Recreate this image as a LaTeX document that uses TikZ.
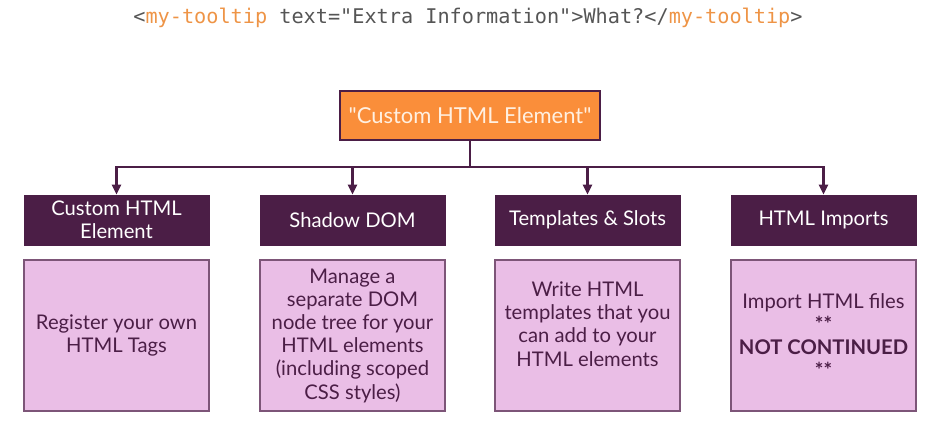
\documentclass[tikz,border=0pt]{standalone}
\usepackage{fontspec}
\setmainfont{Lato}
\setmonofont{DejaVu Sans Mono}
\newfontfamily\quotefont{Lato}
\usetikzlibrary{arrows.meta,positioning}
\definecolor{webpurple}{RGB}{75,30,70}
\definecolor{webpink}{RGB}{234,190,230}
\definecolor{pinkedge}{RGB}{125,85,120}
\definecolor{weborange}{RGB}{250,142,58}
\definecolor{orangetext}{RGB}{255,240,225}
\definecolor{codeorange}{RGB}{238,148,70}
\definecolor{codegrey}{RGB}{85,85,85}

\begin{document}
\begin{tikzpicture}[font=\fontsize{11.5}{13.2}\selectfont,
  root/.style={draw=webpurple,fill=weborange,line width=0.8pt,minimum width=5.2cm,minimum height=0.98cm,text=orangetext,font=\quotefont\fontsize{12.5}{15}\selectfont},
  hdr/.style={draw=webpurple,fill=webpurple,text=white,minimum width=3.7cm,minimum height=1cm,align=center,inner sep=2pt,font=\fontsize{11.5}{13}\selectfont},
  body/.style={draw=pinkedge,fill=webpink,line width=0.8pt,text=webpurple,minimum width=3.7cm,minimum height=3.02cm,align=center},
  arr/.style={-{Triangle[length=2mm,width=1.8mm]},line width=1.4pt,webpurple}]
\useasboundingbox (0,0) rectangle (18.58,-8.42);
\node[font=\ttfamily\fontsize{11.5}{14}\selectfont,text=codegrey] (code) at (9.36,-0.36)
 {<\textcolor{codeorange}{my-tooltip} text="Extra Information">What?</\textcolor{codeorange}{my-tooltip}>};
\node[root] (root) at (9.4,-2.31) {"Custom HTML Element"};
\coordinate (bus) at (9.4,-3.34);
% the four topics
\node[hdr] (h1) at (2.33,-4.4) {Custom HTML\\Element};
\node[hdr] (h2) at (7.05,-4.4) {Shadow DOM};
\node[hdr] (h3) at (11.75,-4.4) {Templates \& Slots};
\node[hdr] (h4) at (16.47,-4.4) {HTML Imports};
\node[body] (b1) at (2.33,-6.71) {Register your own\\HTML Tags};
\node[body] (b2) at (7.05,-6.71) {Manage a\\separate DOM\\node tree for your\\HTML elements\\(including scoped\\CSS styles)};
\node[body] (b3) at (11.75,-6.71) {Write HTML\\templates that you\\can add to your\\HTML elements\\\mbox{}};
\node[body] (b4) at (16.47,-6.71) {Import HTML files\\\textbf{**}\\\textbf{NOT CONTINUED}\\\textbf{**}};
\draw[arr] (root.south) -- (root.south|-bus) -| (h1.north);
\draw[arr] (root.south) -- (root.south|-bus) -| (h2.north);
\draw[arr] (root.south) -- (root.south|-bus) -| (h3.north);
\draw[arr] (root.south) -- (root.south|-bus) -| (h4.north);
\end{tikzpicture}
\end{document}
